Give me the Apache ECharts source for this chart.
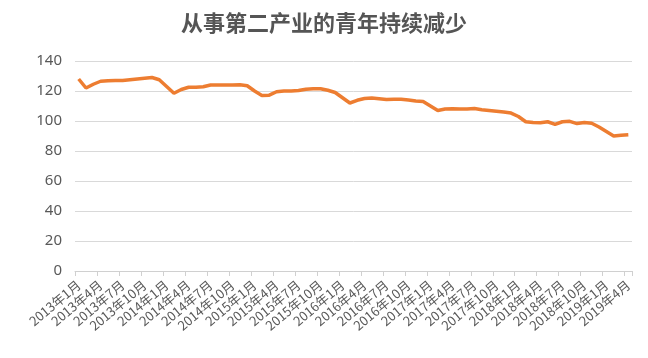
<!DOCTYPE html>
<html><head><meta charset="utf-8">
<script src="https://cdn.jsdelivr.net/npm/echarts@6/dist/echarts.min.js"></script>
<style>html,body{margin:0;padding:0;background:#fff}#c{width:648px;height:358px}</style>
</head><body><div id="c"></div>
<script>
const titleText = '从事第二产业的青年持续减少';
const startYear = 2013, startMonth = 1, monthCount = 76;
const categories = [];
for (let i = 0; i < monthCount; i++) {
  const m = startMonth - 1 + i;
  categories.push((startYear + Math.floor(m / 12)) + '年' + (m % 12 + 1) + '月');
}
const values = [
  128, 122, 124.5, 126.5, 126.8, 127, 127, 127.5, 128, 128.5,
  129, 127.5, 123, 118.5, 121, 122.5, 122.5, 122.8, 124, 124,
  124, 124, 124.2, 123.5, 120, 117, 117.2, 119.5, 120, 120,
  120.3, 121.2, 121.5, 121.5, 120.5, 119, 115.5, 112, 113.8, 115,
  115.3, 114.8, 114.3, 114.5, 114.5, 114, 113.3, 113, 110, 107,
  108, 108.2, 108, 108, 108.3, 107.5, 107, 106.5, 106, 105.3,
  103, 99.5, 99, 98.8, 99.5, 97.8, 99.5, 99.8, 98.3, 99,
  98.5, 96, 93, 90, 90.5, 90.8
];
const yTicks = [0, 20, 40, 60, 80, 100, 120, 140];

const chart = echarts.init(document.getElementById('c'), null, {renderer: 'canvas'});
chart.setOption({
  animation: false,
  backgroundColor: '#ffffff',
  title: {
    text: titleText, left: 'center', top: 7,
    textStyle: {fontFamily: 'Noto Sans CJK SC', fontWeight: 'bold', fontSize: 22, color: '#555555'}
  },
  grid: {left: 75, right: 16, top: 61, bottom: 87, containLabel: false},
  xAxis: {
    type: 'category', data: categories, boundaryGap: true,
    axisLine: {show: true, lineStyle: {color: '#d0d0d0', width: 1}},
    axisTick: {show: true, interval: 2, length: 5, lineStyle: {color: '#d0d0d0'}},
    axisLabel: {interval: 2, rotate: 40, margin: 12, fontSize: 13, color: '#595959', fontFamily: 'Noto Sans CJK SC'}
  },
  yAxis: {
    type: 'value', min: yTicks[0], max: yTicks[yTicks.length - 1], interval: 20,
    axisLine: {show: false}, axisTick: {show: false},
    axisLabel: {margin: 13, fontSize: 15, color: '#595959', fontFamily: 'Noto Sans'},
    splitLine: {lineStyle: {color: '#d9d9d9', width: 1}}
  },
  series: [{
    type: 'line', data: values, showSymbol: false, smooth: false,
    lineStyle: {color: '#ED7D31', width: 3.5}, itemStyle: {color: '#ED7D31'}
  }]
});
</script></body></html>
